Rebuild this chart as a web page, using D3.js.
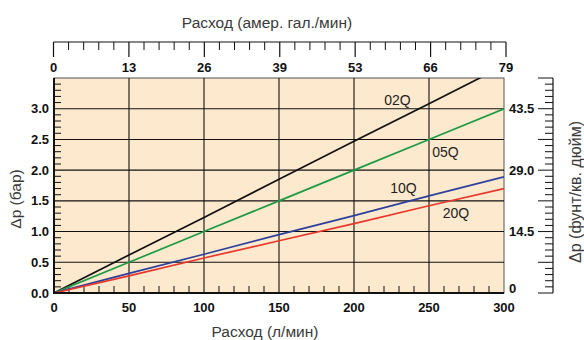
<!DOCTYPE html>
<html><head><meta charset="utf-8">
<script src="https://cdn.jsdelivr.net/npm/d3@7"></script>
<style>
html,body{margin:0;padding:0;background:#fff;}
svg text{font-family:"Liberation Sans",Arial,Helvetica,sans-serif;}
</style></head>
<body><svg id="c" width="584" height="340"></svg>
<script>
// ---- data ----
const flowLpm = [0, 50, 100, 150, 200, 250, 300];
const seriesNames = ["02Q", "05Q", "10Q", "20Q"];
const q02 = [0, 0.62, 1.23, 1.85, 2.47, 3.08, 3.70];
const q05 = [0, 0.50, 1.00, 1.50, 2.00, 2.50, 3.00];
const q10 = [0, 0.32, 0.63, 0.95, 1.26, 1.58, 1.89];
const q20 = [0, 0.28, 0.57, 0.85, 1.13, 1.42, 1.70];
const seriesColors = ["#111111", "#1c9a44", "#2d3f9c", "#e8382c"];
const labelFlow = [229, 261, 233, 268];
const labelBar = [3.14, 2.30, 1.71, 1.30];
const barTicks = [0, 0.5, 1.0, 1.5, 2.0, 2.5, 3.0];
const barTickLabels = ["0.0","0.5","1.0","1.5","2.0","2.5","3.0"];
const lpmTicks = [0, 50, 100, 150, 200, 250, 300];
const gpmTickLabels = ["0","13","26","39","53","66","79"];
const psiTickBars = [0, 1, 2, 3];
const psiTickLabels = ["0","14.5","29.0","43.5"];

const svg = d3.select("#c");
const L = 54, R = 504, T = 78, B = 293;
const x = d3.scaleLinear().domain([0, 300]).range([L, R]);
const y = d3.scaleLinear().domain([0, 3.5]).range([B, T]);
const xTop = d3.scaleLinear().domain([0, 300]).range([L - 0.5, 506]);

// plot background
svg.append("rect").attr("x", L).attr("y", T).attr("width", R - L).attr("height", B - T)
  .attr("fill", "#fde9cd").attr("stroke", "#555").attr("stroke-width", 1);

// grid
const g = svg.append("g");
g.selectAll(".vg").data(lpmTicks.filter(d => d > 0 && d < 300)).join("line")
  .attr("x1", d => x(d)).attr("x2", d => x(d)).attr("y1", T).attr("y2", B)
  .attr("stroke", "#111").attr("stroke-width", 1.1);
g.selectAll(".hg").data(barTicks.filter(d => d > 0)).join("line")
  .attr("x1", L).attr("x2", R).attr("y1", d => y(d)).attr("y2", d => y(d))
  .attr("stroke", "#111").attr("stroke-width", 1.1);

// minor ticks inside plot
const minorX = d3.range(0, 301, 10).filter(d => d % 50 !== 0);
g.selectAll(".mx").data(minorX).join("line")
  .attr("x1", d => x(d)).attr("x2", d => x(d)).attr("y1", B).attr("y2", B - 7)
  .attr("stroke", "#111").attr("stroke-width", 1);
const minorY = d3.range(1, 35).map(d => d / 10).filter(d => Math.abs(d * 2 - Math.round(d * 2)) > 1e-6);
g.selectAll(".my").data(minorY).join("line")
  .attr("x1", L).attr("x2", L + 7).attr("y1", d => y(d)).attr("y2", d => y(d))
  .attr("stroke", "#111").attr("stroke-width", 1);

// clip + series lines
svg.append("clipPath").attr("id", "clip").append("rect")
  .attr("x", L).attr("y", T).attr("width", R - L).attr("height", B - T);
const allSeries = [q02, q05, q10, q20];
const line = d3.line().x((d, i) => x(flowLpm[i])).y(d => y(d));
svg.append("g").attr("clip-path", "url(#clip)").selectAll("path").data(allSeries).join("path")
  .attr("d", d => line(d)).attr("fill", "none")
  .attr("stroke", (d, i) => seriesColors[i]).attr("stroke-width", 1.7);

// series labels
svg.selectAll(".sl").data(seriesNames).join("text")
  .attr("x", (d, i) => x(labelFlow[i])).attr("y", (d, i) => y(labelBar[i]))
  .attr("text-anchor", "middle").attr("dominant-baseline", "central")
  .attr("font-size", 14).attr("fill", "#222").text(d => d);

// left & bottom axis lines
svg.append("line").attr("x1", L).attr("x2", L).attr("y1", T).attr("y2", B + 1)
  .attr("stroke", "#111").attr("stroke-width", 2);
svg.append("line").attr("x1", L - 1).attr("x2", R).attr("y1", B).attr("y2", B)
  .attr("stroke", "#111").attr("stroke-width", 2);

// left tick labels
svg.selectAll(".yl").data(barTicks).join("text")
  .attr("x", 49).attr("y", d => y(d)).attr("text-anchor", "end").attr("dominant-baseline", "central")
  .attr("font-size", 13).attr("font-weight", "bold").attr("fill", "#111").text((d, i) => barTickLabels[i]);

// bottom tick labels
svg.selectAll(".xl").data(lpmTicks).join("text")
  .attr("x", d => x(d)).attr("y", 307).attr("text-anchor", "middle").attr("dominant-baseline", "central")
  .attr("font-size", 13).attr("font-weight", "bold").attr("fill", "#111").text(d => d);

// top axis
const topY = 42;
svg.append("line").attr("x1", xTop(0)).attr("x2", xTop(300)).attr("y1", topY).attr("y2", topY)
  .attr("stroke", "#111").attr("stroke-width", 1.2);
svg.selectAll(".tmaj").data(lpmTicks).join("line")
  .attr("x1", d => xTop(d)).attr("x2", d => xTop(d)).attr("y1", topY).attr("y2", topY + 15)
  .attr("stroke", "#111").attr("stroke-width", 1.2);
svg.selectAll(".tmin").data(minorX).join("line")
  .attr("x1", d => xTop(d)).attr("x2", d => xTop(d)).attr("y1", topY).attr("y2", topY + 8)
  .attr("stroke", "#111").attr("stroke-width", 1);
svg.selectAll(".tl").data(lpmTicks).join("text")
  .attr("x", d => xTop(d)).attr("y", 67).attr("text-anchor", "middle").attr("dominant-baseline", "central")
  .attr("font-size", 13).attr("font-weight", "bold").attr("fill", "#111").text((d, i) => gpmTickLabels[i]);

// right axis (psi)
const rX = 553;
svg.append("line").attr("x1", rX).attr("x2", rX).attr("y1", y(3.5)).attr("y2", B)
  .attr("stroke", "#111").attr("stroke-width", 1.2);
const rTicks = d3.range(0, 36).map(d => d / 10);
svg.selectAll(".rt").data(rTicks).join("line")
  .attr("x1", d => (Math.abs(d * 2 - Math.round(d * 2)) < 1e-6) ? rX - 15 : rX - 8).attr("x2", rX)
  .attr("y1", d => y(d)).attr("y2", d => y(d))
  .attr("stroke", "#111").attr("stroke-width", 1);
svg.selectAll(".rl").data(psiTickBars).join("text")
  .attr("x", 509).attr("y", d => d === 0 ? y(d) - 5 : y(d)).attr("text-anchor", "start").attr("dominant-baseline", "central")
  .attr("font-size", 13).attr("font-weight", "bold").attr("fill", "#111").text((d, i) => psiTickLabels[i]);

// titles
svg.append("text").attr("x", 267).attr("y", 22).attr("text-anchor", "middle").attr("dominant-baseline", "central")
  .attr("font-size", 15.5).attr("fill", "#3a3a3a").text("Расход (амер. гал./мин)");
svg.append("text").attr("x", 265).attr("y", 331).attr("text-anchor", "middle").attr("dominant-baseline", "central")
  .attr("font-size", 15.5).attr("fill", "#3a3a3a").text("Расход (л/мин)");
svg.append("text").attr("transform", "translate(15,199) rotate(-90)").attr("text-anchor", "middle")
  .attr("dominant-baseline", "central").attr("font-size", 15.5).attr("fill", "#3a3a3a").text("Δp (бар)");
svg.append("text").attr("transform", "translate(575,192) rotate(-90)").attr("text-anchor", "middle")
  .attr("dominant-baseline", "central").attr("font-size", 16).attr("fill", "#3a3a3a").text("Δp (фунт/кв. дюйм)");
</script></body></html>
